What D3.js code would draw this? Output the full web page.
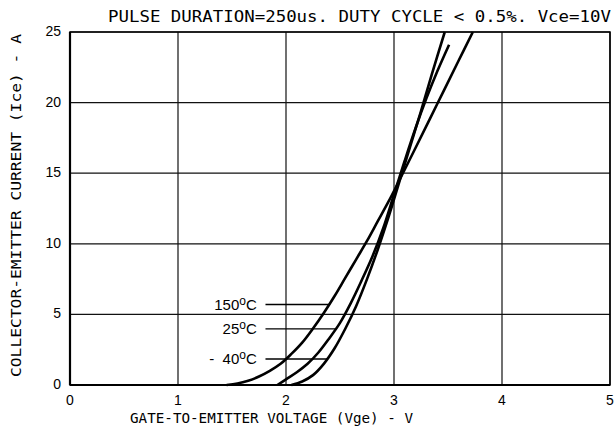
<!DOCTYPE html>
<html>
<head>
<meta charset="utf-8">
<script src="https://cdn.jsdelivr.net/npm/d3@7"></script>
<style>
  body { margin: 0; background: #fff; }
  text { font-family: "Liberation Sans", Arial, sans-serif; fill: #000; }
  .mono { font-family: "DejaVu Sans Mono", monospace; }
</style>
</head>
<body>
<div id="chart"></div>
<script>
// Vge (V), Ice (A)
const curve150 = [[1.45, 0], [1.55, 0.1], [1.65, 0.3], [1.75, 0.6], [1.85, 1.0], [1.95, 1.5],
  [2.05, 2.2], [2.15, 3.0], [2.25, 4.0], [2.35, 5.1], [2.45, 6.3], [2.55, 7.6], [2.65, 8.9],
  [2.75, 10.2], [2.85, 11.6], [2.95, 13.0], [3.05, 14.5], [3.2, 16.8], [3.4, 19.9],
  [3.6, 23.0], [3.73, 25]];
const curve25 = [[1.92, 0], [2.0, 0.4], [2.1, 0.9], [2.2, 1.5], [2.3, 2.3], [2.4, 3.3],
  [2.5, 4.4], [2.6, 5.8], [2.7, 7.4], [2.8, 9.1], [2.9, 11.1], [3.0, 13.5], [3.1, 15.9],
  [3.2, 18.2], [3.3, 20.3], [3.4, 22.2], [3.51, 24.1]];
const curveM40 = [[2.05, 0], [2.15, 0.25], [2.25, 0.7], [2.35, 1.5], [2.45, 2.6], [2.55, 4.0],
  [2.65, 5.6], [2.75, 7.5], [2.85, 9.6], [2.95, 11.9], [3.05, 14.4], [3.15, 16.9],
  [3.25, 19.4], [3.35, 22.0], [3.47, 25]];

const xTicks = [0, 1, 2, 3, 4, 5];
const yTicks = [0, 5, 10, 15, 20, 25];

// label text, current level of leader, Vge where leader hits curve
const labels = [
  { text: "150", at: 5.7, end: 2.4 },
  { text: "25", at: 3.97, end: 2.46 },
  { text: "-  40", at: 1.84, end: 2.38 }
];

const W = 616, H = 432;
const margin = { top: 32, right: 6, bottom: 47, left: 70 };
const width = W - margin.left - margin.right,
  height = H - margin.top - margin.bottom;

const svg = d3.select("#chart").append("svg")
  .attr("width", W)
  .attr("height", H);

const g = svg.append("g")
  .attr("transform", `translate(${margin.left},${margin.top})`);

const x = d3.scaleLinear().domain([0, 5]).range([0, width]);
const y = d3.scaleLinear().domain([0, 25]).range([height, 0]);

// grid
g.selectAll(".vgrid")
  .data(xTicks)
  .enter().append("line")
  .attr("x1", d => x(d)).attr("x2", d => x(d))
  .attr("y1", 0).attr("y2", height)
  .attr("stroke", "#111").attr("stroke-width", 1.2);

g.selectAll(".hgrid")
  .data(yTicks)
  .enter().append("line")
  .attr("x1", 0).attr("x2", width)
  .attr("y1", d => y(d)).attr("y2", d => y(d))
  .attr("stroke", "#111").attr("stroke-width", 1.2);

// frame
g.append("rect")
  .attr("width", width).attr("height", height)
  .attr("fill", "none").attr("stroke", "#000").attr("stroke-width", 1.5);
g.append("line")
  .attr("x1", 0).attr("x2", 0).attr("y1", 0).attr("y2", height)
  .attr("stroke", "#000").attr("stroke-width", 2.2);
g.append("line")
  .attr("x1", 0).attr("x2", width).attr("y1", height).attr("y2", height)
  .attr("stroke", "#000").attr("stroke-width", 2.2);

// tick labels
g.selectAll(".xt")
  .data(xTicks)
  .enter().append("text")
  .attr("x", d => x(d))
  .attr("y", height + 20)
  .attr("text-anchor", "middle")
  .style("font-size", "14px")
  .text(d => d);

g.selectAll(".yt")
  .data(yTicks)
  .enter().append("text")
  .attr("x", -9)
  .attr("y", d => y(d) + 4)
  .attr("text-anchor", "end")
  .style("font-size", "14px")
  .text(d => d);

// curves
const line = d3.line()
  .x(d => x(d[0]))
  .y(d => y(d[1]))
  .curve(d3.curveCatmullRom);

[curve150, curve25, curveM40].forEach(c => {
  g.append("path")
    .datum(c)
    .attr("fill", "none")
    .attr("stroke", "#000")
    .attr("stroke-width", 2.6)
    .attr("d", line);
});

// temperature labels with leaders
labels.forEach(l => {
  const t = g.append("text")
    .attr("x", x(1.73))
    .attr("y", y(l.at) + 5)
    .attr("text-anchor", "end")
    .style("white-space", "pre")
    .style("font-size", "15px");
  t.append("tspan").text(l.text);
  t.append("tspan").attr("dy", -5).style("font-size", "12px").text("o");
  t.append("tspan").attr("dy", 5).text("C");

  g.append("line")
    .attr("x1", x(1.81)).attr("x2", x(l.end))
    .attr("y1", y(l.at)).attr("y2", y(l.at))
    .attr("stroke", "#000").attr("stroke-width", 1.3);
});

// titles
svg.append("text")
  .attr("class", "mono")
  .attr("x", 108).attr("y", 22)
  .attr("textLength", 503)
  .attr("lengthAdjust", "spacingAndGlyphs")
  .style("font-size", "15px")
  .text("PULSE DURATION=250us. DUTY CYCLE < 0.5%. Vce=10V");

svg.append("text")
  .attr("class", "mono")
  .attr("x", 130).attr("y", 423)
  .attr("textLength", 283)
  .attr("lengthAdjust", "spacingAndGlyphs")
  .style("font-size", "14px")
  .text("GATE-TO-EMITTER VOLTAGE (Vge) - V");

svg.append("text")
  .attr("class", "mono")
  .attr("transform", "translate(21,377) rotate(-90)")
  .attr("textLength", 343)
  .attr("lengthAdjust", "spacingAndGlyphs")
  .style("font-size", "14px")
  .text("COLLECTOR-EMITTER CURRENT (Ice) - A");
</script>
</body>
</html>
